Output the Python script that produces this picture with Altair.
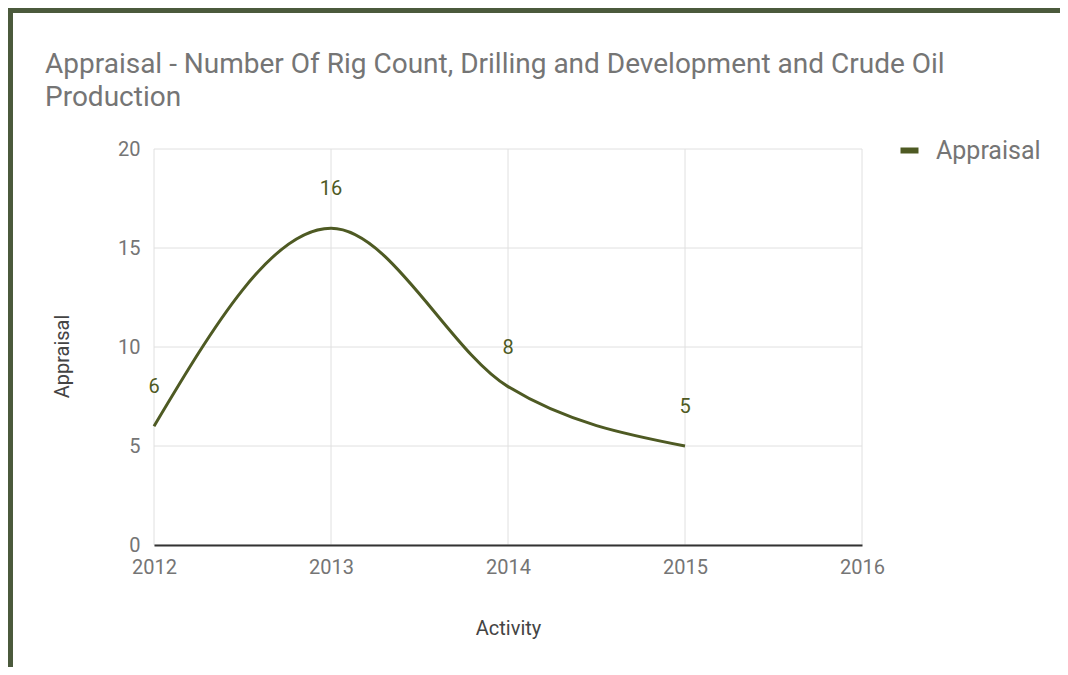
import altair as alt
import pandas as pd

years = [2012, 2013, 2014, 2015]
appraisal = [6, 16, 8, 5]
series = ["Appraisal"] * 4
x_ticks = [2012, 2013, 2014, 2015, 2016]
y_ticks = [0, 5, 10, 15, 20]
title_lines = [
    "Appraisal - Number Of Rig Count, Drilling and Development and Crude Oil",
    "Production",
]

df = pd.DataFrame({"Activity": years, "Appraisal": appraisal, "Series": series})

FONT = "Roboto"
LINE = "#4e5a23"
FRAME = "#4b5a3c"
GRID = "#e0e0e0"
W, H = 708, 396

x_enc = alt.X(
    "Activity:Q",
    scale=alt.Scale(domain=[2012, 2016], nice=False, zero=False),
    axis=alt.Axis(
        values=x_ticks, format="d", grid=False, zindex=1, labelFlush=False,
        domainColor="#333333", domainWidth=2, ticks=False,
        labelFont=FONT, labelFontSize=20, labelColor="#757575", labelPadding=12,
        title="Activity", titleFont=FONT, titleFontSize=20, titleFontWeight="normal",
        titleColor="#444444", titleX=354, titleY=83, titleBaseline="middle",
        titleAlign="center",
    ),
)
y_enc = alt.Y(
    "Appraisal:Q",
    scale=alt.Scale(domain=[0, 20], nice=False),
    axis=alt.Axis(
        values=y_ticks, grid=False, domain=False, ticks=False, zindex=1,
        labelFont=FONT, labelFontSize=20, labelColor="#757575", labelPadding=14,
        title="Appraisal", titleFont=FONT, titleFontSize=20, titleFontWeight="normal",
        titleColor="#444444", titleAngle=270, titleX=-92, titleY=207,
        titleBaseline="middle", titleAlign="center",
    ),
)

bg = alt.Chart(pd.DataFrame({"k": [0]})).mark_rect(color="white").encode(
    x=alt.value(-141), x2=alt.value(912), y=alt.value(-136), y2=alt.value(524)
)

vgrid = alt.Chart(pd.DataFrame({"Activity": x_ticks})).mark_rule(
    color=GRID, strokeWidth=1
).encode(x=x_enc)
hgrid = alt.Chart(pd.DataFrame({"Appraisal": y_ticks})).mark_rule(
    color=GRID, strokeWidth=1
).encode(y=y_enc)

base = alt.Chart(df).encode(x=x_enc, y=y_enc)

line = base.mark_line(interpolate="monotone", strokeWidth=3).encode(
    color=alt.Color(
        "Series:N",
        scale=alt.Scale(range=[LINE]),
        legend=alt.Legend(
            title=None, orient="none", legendX=743, legendY=-11,
            symbolType="stroke", symbolStrokeWidth=6, symbolSize=324,
            labelFont=FONT, labelFontSize=25, labelColor="#757575",
            labelOffset=14, padding=0,
        ),
    )
)

labels = base.mark_text(dy=-39, font=FONT, fontSize=20, color=LINE).encode(
    text="Appraisal:Q"
)

chart = alt.layer(bg, vgrid, hgrid, line, labels).properties(
    width=W,
    height=H,
    title=alt.TitleParams(
        text=title_lines, anchor="start", frame="group", dx=-109, offset=0, dy=99,
        font=FONT, fontSize=28, fontWeight="normal", color="#757575", lineHeight=33,
    ),
    padding={"left": 146, "top": 141, "right": 198, "bottom": 122},
    autosize=alt.AutoSizeParams(type="none"),
    background=FRAME,
).configure_view(strokeWidth=0)

chart.save("out.html", embed_options={"renderer": "svg", "actions": False})
